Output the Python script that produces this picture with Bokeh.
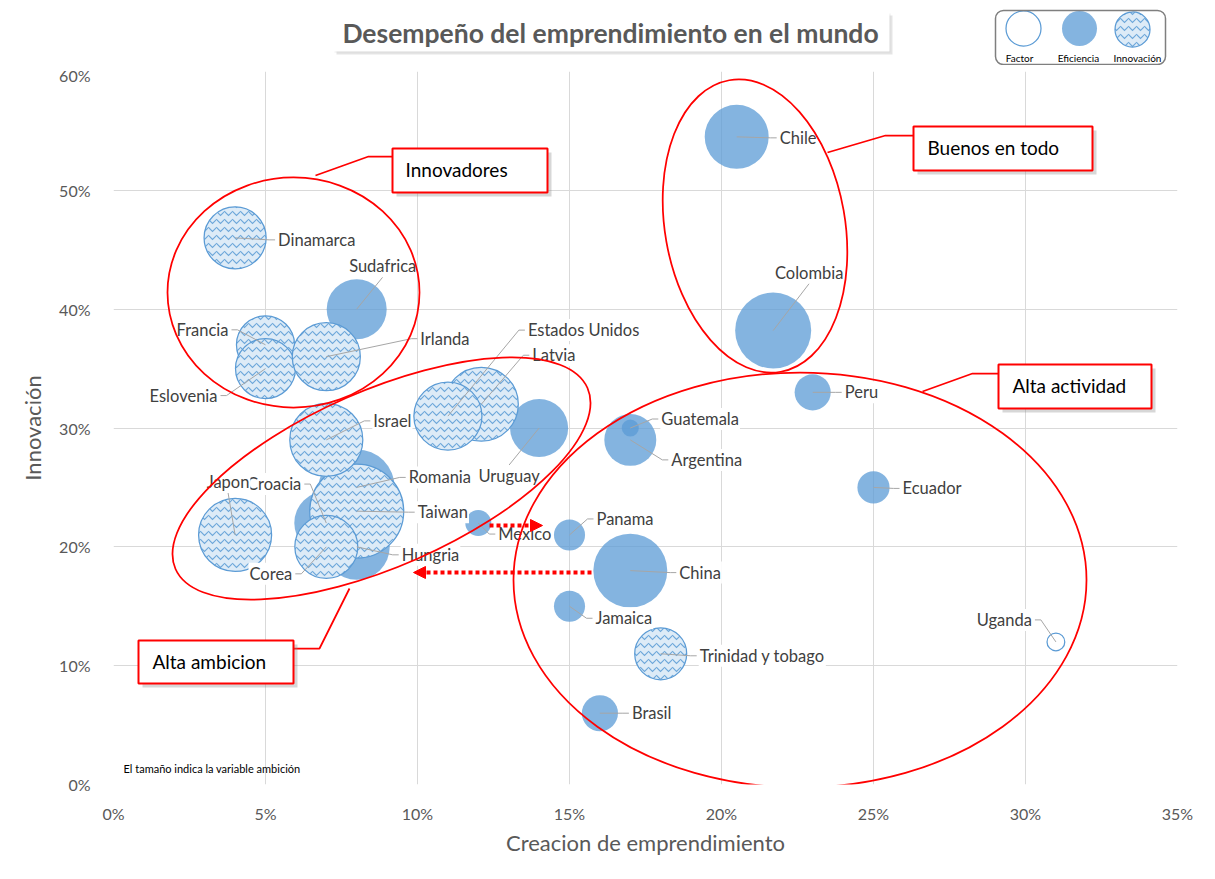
import math
from bokeh.plotting import figure
from bokeh.layouts import column
from bokeh.models import (ColumnDataSource, Label, Arrow, NormalHead, PrintfTickFormatter,
                          FixedTicker, BoxAnnotation, Range1d)
from bokeh.embed import file_html
from bokeh.resources import INLINE
from bokeh.core.properties import value

# ---------------- data ----------------
paises = ["Uganda",
          "Chile", "Colombia", "Peru", "Ecuador", "Argentina", "Guatemala", "Panama", "China",
          "Jamaica", "Brasil", "Mexico", "Uruguay", "Romania", "Hungria", "Croacia", "Sudafrica",
          "Taiwan", "Latvia", "Estados Unidos", "Israel", "Corea", "Japon", "Dinamarca",
          "Francia", "Eslovenia", "Irlanda", "Trinidad y tobago"]
creacion = [31.0,
            20.5, 21.7, 23.0, 25.0, 17.0, 17.0, 15.0, 17.0,
            15.0, 16.0, 12.0, 14.0, 8.0, 8.0, 7.0, 8.0,
            8.0, 12.1, 11.0, 7.0, 7.0, 4.0, 4.0,
            5.0, 5.0, 7.0, 18.0]
innovacion = [12.0,
              54.5, 38.2, 33.0, 25.0, 29.0, 30.0, 21.0, 18.0,
              15.0, 6.0, 22.0, 30.0, 25.0, 20.0, 22.0, 40.0,
              23.0, 32.0, 31.0, 29.0, 20.0, 21.0, 46.0,
              37.0, 35.0, 36.0, 11.0]
ambicion = [1.4,
            18.2, 25.7, 5.8, 4.6, 12.0, 1.3, 4.3, 24.3,
            4.3, 5.8, 3.0, 15.0, 25.7, 19.4, 18.2, 16.0,
            39.3, 24.3, 20.6, 23.7, 17.6, 23.7, 17.1,
            15.0, 16.0, 20.6, 12.0]
tipo = ["Factor"] + ["Eficiencia"] * 16 + ["Innovación"] * 11
series = ["Factor", "Eficiencia", "Innovación"]

x_ticks = [0, 5, 10, 15, 20, 25, 30, 35]
y_ticks = [0, 10, 20, 30, 40, 50, 60]

# label placement (pixel offsets from bubble centre, alignment)
label_pos = {
    "Uganda": (-23, -22, "right"), "Chile": (42, 1, "left"), "Colombia": (36, -58, "center"),
    "Peru": (31, 0, "left"), "Ecuador": (28, 1, "left"), "Argentina": (40, 20, "left"),
    "Guatemala": (30, -9, "left"), "Panama": (26, -16, "left"), "China": (48, 2, "left"),
    "Jamaica": (25, 12, "left"), "Brasil": (31, 0, "left"), "Mexico": (19, 11, "left"),
    "Uruguay": (-30, 48, "center"), "Romania": (51, -10, "left"), "Hungria": (44, 8, "left"),
    "Croacia": (-24, -39, "right"), "Sudafrica": (26, -43, "center"), "Taiwan": (60, 1, "left"),
    "Latvia": (50, -49, "left"), "Estados Unidos": (79, -86, "left"), "Israel": (46, -19, "left"),
    "Corea": (-33, 27, "right"), "Japon": (-7, -53, "center"), "Dinamarca": (42, 2, "left"),
    "Francia": (-36, -15, "right"), "Eslovenia": (-47, 27, "right"), "Irlanda": (93, -18, "left"),
    "Trinidad y tobago": (38, 2, "left"),
}

# ---------------- layout ----------------
FONT = "Lato"
W = 1207
HH = 65                      # header (title + legend)
H = 871 - HH                 # main chart
BL, BR, BT, BB = 113, 30, 71 - HH, 87
FW, FH = W - BL - BR, H - BT - BB
XMAX, YMAX = 35, 60
PXX, PXY = FW / XMAX, FH / YMAX

STYLE = {
    "Factor": dict(fill_color="white", line_color="#5B9BD5", line_width=1.25),
    "Eficiencia": dict(fill_color="#5B9BD5", fill_alpha=0.75, line_color=None),
    "Innovación": dict(fill_color="#DDEBF7", line_color="#5B9BD5", line_width=1.25,
                       hatch_pattern="horizontal_wave", hatch_color="#5B9BD5", hatch_alpha=0.85,
                       hatch_scale=8, hatch_weight=1.1),
}


def fx(xr):  # chart pixel -> data x
    return (xr - BL) / PXX


def fy(yr):  # chart pixel -> data y
    return (784 - yr) / PXY


# ================= header figure (title + legend) =================
ph = figure(width=W, height=HH, x_range=Range1d(BL, W - BR), y_range=Range1d(HH, 0),
            output_backend="svg", toolbar_location=None, title=None,
            min_border_left=BL, min_border_right=BR, min_border_top=0, min_border_bottom=0,
            x_axis_type=None, y_axis_type=None, outline_line_color=None,
            background_fill_color="white", border_fill_color="white")
ph.grid.visible = False

# title box with soft shadow
ph.add_layout(BoxAnnotation(left=336, right=892, top=15, bottom=54, fill_color="#A6A6A6",
                            fill_alpha=0.3, line_color=None))
ph.add_layout(BoxAnnotation(left=334, right=890, top=13, bottom=52, fill_color="#BFBFBF",
                            fill_alpha=0.3, line_color=None))
ph.add_layout(BoxAnnotation(left=333, right=889, top=12, bottom=51, fill_color="white",
                            fill_alpha=1, line_color=None))
ph.add_layout(Label(x=610, y=32, text="Desempeño del emprendimiento en el mundo", text_font=FONT,
                    text_font_size="26.5px", text_font_style="bold", text_color="#595959",
                    text_align="center", text_baseline="middle"))
# legend
ph.add_layout(BoxAnnotation(left=995, right=1165, top=10, bottom=64, fill_alpha=0,
                            line_color="#7F7F7F", line_alpha=1, line_width=1.5,
                            border_radius=8))
for s, cx, cy, tx in zip(series, [1023, 1079, 1132], [28, 28, 29], [1019, 1078, 1137]):
    ph.scatter([cx], [cy], size=35, marker="circle", **STYLE[s])
    ph.add_layout(Label(x=tx, y=57, text=s, text_font=FONT, text_font_size="10px",
                        text_color="#000000", text_align="center", text_baseline="middle"))

# ================= main chart =================
p = figure(width=W, height=H, x_range=(0, XMAX), y_range=(0, YMAX), output_backend="svg",
           toolbar_location=None, title=None, min_border_left=BL, min_border_right=BR,
           min_border_top=BT, min_border_bottom=BB, background_fill_color="white",
           border_fill_color="white", outline_line_color=None)

for ax, ticks in ((p.xaxis, x_ticks), (p.yaxis, y_ticks)):
    ax.ticker = FixedTicker(ticks=ticks)
    ax.formatter = PrintfTickFormatter(format="%d%%")
    ax.axis_line_color = None
    ax.major_tick_line_color = None
    ax.minor_tick_line_color = None
    ax.major_label_text_font = FONT
    ax.major_label_text_font_size = "16px"
    ax.major_label_text_color = "#595959"
    ax.axis_label_text_font = FONT
    ax.axis_label_text_font_size = "22px"
    ax.axis_label_text_font_style = "normal"
    ax.axis_label_text_color = "#595959"
p.xaxis.major_label_standoff = 13
p.yaxis.major_label_standoff = 17
p.xaxis.axis_label = "Creacion de emprendimiento"
p.yaxis.axis_label = "Innovación"
p.xaxis.axis_label_standoff = 3
p.yaxis.axis_label_standoff = 10
p.xgrid.ticker = FixedTicker(ticks=x_ticks)
p.ygrid.ticker = FixedTicker(ticks=y_ticks)
p.grid.grid_line_color = "#D9D9D9"
p.grid.grid_line_width = 1


# ---------------- bubbles ----------------
def src_for(t):
    idx = [i for i, k in enumerate(tipo) if k == t]
    return ColumnDataSource(dict(
        x=[creacion[i] for i in idx], y=[innovacion[i] for i in idx],
        size=[15 * math.sqrt(ambicion[i]) for i in idx], name=[paises[i] for i in idx]))


for s in series:
    p.scatter("x", "y", size="size", source=src_for(s), marker="circle", **STYLE[s])

# ---------------- data labels + leader lines ----------------
lx, ly = [], []
lab = {"left": dict(x=[], y=[], t=[]), "right": dict(x=[], y=[], t=[]), "center": dict(x=[], y=[], t=[])}
for n, xv, yv in zip(paises, creacion, innovacion):
    dx, dy, al = label_pos[n]
    tx, ty = xv + dx / PXX, yv - dy / PXY
    lab[al]["x"].append(tx); lab[al]["y"].append(ty); lab[al]["t"].append(n)
    if al == "left":
        xs = [xv, tx - 8 / PXX, tx - 2 / PXX]; ys = [yv, ty, ty]
    elif al == "right":
        xs = [xv, tx + 8 / PXX, tx + 2 / PXX]; ys = [yv, ty, ty]
    else:
        off = 11 if dy < 0 else -11
        xs = [xv, tx]; ys = [yv, ty - off / PXY]
    lx.append(xs); ly.append(ys)
p.multi_line(lx, ly, line_color="#A6A6A6", line_width=1)
for al, d in lab.items():
    p.text(d["x"], d["y"], text=d["t"], text_align=al, text_baseline="middle",
           text_font=value(FONT), text_font_size="16.5px", text_color="#404040",
           background_fill_color="white", padding=1)

# ---------------- red annotations ----------------
ell = dict(x=[fx(293), fx(754.5), fx(381), fx(799.5)],
           y=[fy(292), fy(225.5), fy(478), fy(579.5)],
           w=[252, 180, 450, 573], h=[230, 296, 176, 415],
           a=[0.0, 0.175, 0.414, 0.0])
p.ellipse(ell["x"], ell["y"], width=ell["w"], height=ell["h"], angle=ell["a"],
          width_units="screen", height_units="screen", fill_color=None,
          line_color="red", line_width=1.75)

connectors = [[(315, 175), (368, 156), (392, 156)],
              [(827, 152), (885, 135), (913, 135)],
              [(922, 391), (972, 373), (998, 373)],
              [(349, 588), (319, 648), (293, 648)]]
p.multi_line([[fx(a) for a, b in c] for c in connectors], [[fy(b) for a, b in c] for c in connectors],
             line_color="red", line_width=1.75)

for (x0, y0, x1, y1) in [(489, 525, 542, 525), (591, 572, 413, 572)]:
    p.add_layout(Arrow(end=NormalHead(size=12, fill_color="red", line_color="red"),
                       x_start=fx(x0), y_start=fy(y0), x_end=fx(x1), y_end=fy(y1),
                       line_color="red", line_width=4, line_dash="4 3"))

callouts = [((392, 148, 547, 192), (405, 169), "Innovadores"),
            ((913, 126, 1092, 170), (927, 147), "Buenos en todo"),
            ((998, 364, 1151, 408), (1012, 385), "Alta actividad"),
            ((138, 640, 293, 683), (152, 661), "Alta ambicion")]
for (l, t, r, b), (tx, ty), txt in callouts:
    p.add_layout(BoxAnnotation(left=fx(l + 4), right=fx(r + 4), top=fy(t + 4), bottom=fy(b + 4),
                               fill_color="#8C8C8C", fill_alpha=0.35, line_color=None))
    p.add_layout(BoxAnnotation(left=fx(l), right=fx(r), top=fy(t), bottom=fy(b),
                               fill_color="white", fill_alpha=1.0, line_color="red",
                               line_alpha=1.0, line_width=2))
    p.add_layout(Label(x=fx(tx), y=fy(ty), text=txt, text_font=FONT, text_font_size="19px",
                       text_color="#000000", text_align="left", text_baseline="middle"))

# note
p.add_layout(Label(x=fx(123), y=fy(768), text="El tamaño indica la variable ambición",
                   text_font=FONT, text_font_size="11px", text_color="#000000",
                   text_align="left", text_baseline="middle"))

open("out.html", "w").write(file_html(column(ph, p, spacing=0), INLINE))
